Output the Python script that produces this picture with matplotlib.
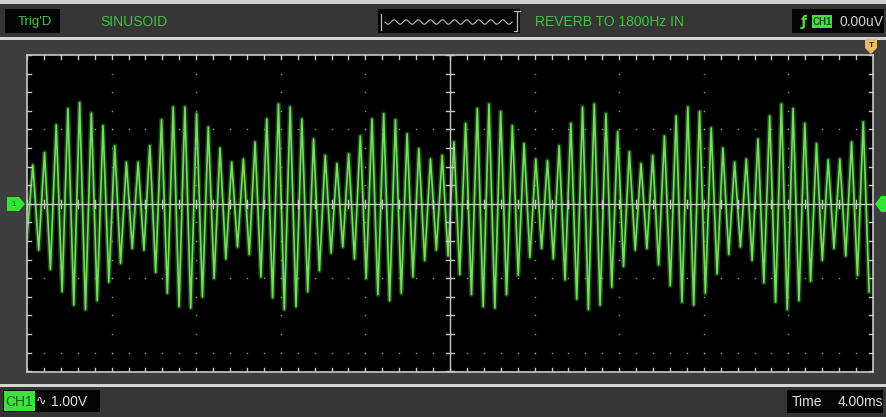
import matplotlib.pyplot as plt
import numpy as np
from matplotlib.patches import Rectangle, Polygon

W, H = 887, 417

# scope readouts
TRIG_STATE = "Trig'D"
SIGNAL_NAME = 'SINUSOID'
STATUS_TEXT = 'REVERB TO 1800Hz IN'
TRIG_LEVEL = '0.00uV'
VOLT_DIV = '1.00V'
TIME_DIV = '4.00ms'

MS_PER_DIV = 4.0
N_HDIV = 10
Y_TOP_V = 2.0      # screen top above ground marker (V)
Y_BOT_V = -2.26    # screen bottom below ground marker (V)

# carrier cycles: first trough time and period (ms)
T_FIRST = 0.0
PERIOD_MS = 0.553

# per-cycle peak levels (V)
PEAKS_POS = [0.52, 0.69, 1.06, 1.28, 1.36, 1.22, 1.05, 0.78, 0.56, 0.56,
             0.78, 1.13, 1.30, 1.30, 1.21, 1.03, 0.75, 0.56, 0.60, 0.83,
             1.14, 1.34, 1.30, 1.14, 0.87, 0.65, 0.54, 0.67, 0.91, 1.14,
             1.21, 1.13, 0.94, 0.74, 0.60, 0.65, 0.83, 1.08, 1.28, 1.34,
             1.24, 1.05, 0.81, 0.60, 0.58, 0.78, 1.08, 1.30, 1.34, 1.21,
             0.97, 0.70, 0.54, 0.65, 0.91, 1.18, 1.30, 1.24, 1.02, 0.75,
             0.56, 0.60, 0.87, 1.18, 1.34, 1.28, 1.08, 0.81, 0.59, 0.60,
             0.83, 1.10]
# per-cycle trough levels (V), one before each peak plus the last one
PEAKS_NEG = [-0.45, -0.62, -0.88, -1.18, -1.36, -1.42, -1.30, -1.05, -0.80, -0.60,
             -0.62, -0.92, -1.20, -1.38, -1.40, -1.25, -1.00, -0.74, -0.58, -0.68,
             -0.98, -1.26, -1.42, -1.38, -1.18, -0.90, -0.66, -0.58, -0.74, -1.00,
             -1.22, -1.30, -1.20, -0.98, -0.76, -0.62, -0.70, -0.95, -1.22, -1.38,
             -1.40, -1.22, -0.96, -0.72, -0.60, -0.74, -1.02, -1.28, -1.42, -1.36,
             -1.12, -0.84, -0.62, -0.60, -0.82, -1.10, -1.32, -1.36, -1.20, -0.94,
             -0.68, -0.58, -0.76, -1.06, -1.32, -1.42, -1.30, -1.04, -0.76, -0.60,
             -0.70, -0.96, -1.18]

BG = '#3e3e3e'
BAR = '#353535'
SEP = '#d4d4d4'
GREEN_TXT = '#3fc43f'
TRACE = '#7ada62'
GRID = '#c9c9c9'

fig = plt.figure(figsize=(W / 100, H / 100), dpi=100)
fig.patch.set_facecolor(BG)

# frame axes in pixel coordinates
frame = fig.add_axes([0, 0, 1, 1])
frame.set_xlim(0, W)
frame.set_ylim(H, 0)
frame.axis('off')


def box(x, y, w, h, color, z=1):
    frame.add_patch(Rectangle((x, y), w, h, facecolor=color, edgecolor='none', zorder=z))


# top and bottom status bars
box(0, 0, W, 4, '#cfcfcf')
box(0, 4, W, 33, BAR)
box(0, 37, W, 3, SEP)
box(0, 384, W, 3, SEP)
box(0, 387, W, 30, BAR)

font = dict(family='Liberation Sans', fontsize=10)

box(5, 9, 55, 24, '#050505', 2)
frame.text(18, 21.5, TRIG_STATE, color=GREEN_TXT, va='center', zorder=3,
           family='Liberation Sans', fontsize=9.5)
frame.text(100, 21.5, SIGNAL_NAME, color=GREEN_TXT, va='center', zorder=3, **font)

# mini waveform overview box
box(378, 9, 142, 24, '#050505', 2)
xs = np.linspace(385, 512, 200)
frame.plot(xs, 22 + 2.2 * np.sin((xs - 385) / 127 * 2 * np.pi * 10.5), color='#bcbcbc', lw=0.8, zorder=3)
frame.plot([381, 381, 381], [14, 22, 30], color='#bcbcbc', lw=0.9, zorder=3)
frame.plot([517, 517], [12, 31], color='#bcbcbc', lw=0.9, zorder=3)
frame.plot([514, 520], [11, 11], color='#bcbcbc', lw=0.9, zorder=3)
frame.plot([514, 517], [31, 31], color='#bcbcbc', lw=0.9, zorder=3)
frame.text(535, 21.5, STATUS_TEXT, color=GREEN_TXT, va='center', zorder=3, **font)

# trigger readout box
box(792, 9, 92, 24, '#050505', 2)
frame.text(804, 21.5, 'ƒ', color='#3fe03f', va='center', ha='center', zorder=3,
           family='DejaVu Sans', fontsize=10, fontweight='bold')
box(812, 15, 20, 13, '#3fe03f', 3)
frame.text(822, 21.8, 'CH1', color='#1a4a1a', va='center', ha='center', zorder=4,
           family='Liberation Sans', fontsize=7, fontweight='bold')
frame.text(840, 21.5, TRIG_LEVEL, color='#d0d0d0', va='center', zorder=3, **font)

# bottom readouts
box(3, 390, 97, 22, '#050505', 2)
box(4, 391, 31, 20, '#3fe03f', 3)
frame.text(19.5, 401.5, 'CH1', color='#1a5a1a', va='center', ha='center', zorder=4, **font)
frame.text(36, 401.5, '∿', color='#e0e0e0', va='center', zorder=3,
           family='DejaVu Sans', fontsize=9)
frame.text(51, 401.5, VOLT_DIV, color='#e0e0e0', va='center', zorder=3, **font)
box(787, 390, 96, 23, '#050505', 2)
frame.text(792, 401.5, 'Time', color='#e0e0e0', va='center', zorder=3, **font)
frame.text(838, 401.5, TIME_DIV, color='#e0e0e0', va='center', zorder=3, **font)

# ground marker (left), level marker (right), trigger-position marker (top)
frame.add_patch(Polygon([[7, 197], [19, 197], [25, 204], [19, 211], [7, 211]],
                        closed=True, facecolor='#33e633', edgecolor='none', zorder=3))
frame.text(14, 204, '1', color='#136013', ha='center', va='center', zorder=4,
           family='Liberation Sans', fontsize=5.5)
frame.add_patch(Polygon([[887, 196], [881, 196], [875, 204], [881, 212], [887, 212]],
                        closed=True, facecolor='#33e633', edgecolor='none', zorder=3))
frame.add_patch(Polygon([[865, 39], [877, 39], [877, 48], [871, 54], [865, 48]],
                        closed=True, facecolor='#e9bb6a', edgecolor='none', zorder=3))
frame.text(871, 45, 'T', color='#3a2a10', ha='center', va='center', zorder=4,
           family='Liberation Sans', fontsize=6, fontweight='bold')

# scope screen
L, R, T, B = 27, 873, 55, 372
ax = fig.add_axes([L / W, 1 - B / H, (R - L) / W, (B - T) / H])
ax.set_facecolor('#000000')
xmax = MS_PER_DIV * N_HDIV
ax.set_xlim(0, xmax)
ax.set_ylim(Y_BOT_V, Y_TOP_V)
ax.set_xticks([])
ax.set_yticks([])
for s in ax.spines.values():
    s.set_color(GRID)
    s.set_linewidth(1.2)

# graticule: dots every 1/5 div along rows, every 1/4 div along columns
xdiv = np.arange(0, xmax + 1e-6, MS_PER_DIV)
ydiv = np.arange(np.ceil(Y_BOT_V), Y_TOP_V + 1e-6, 1.0)
xminor = np.arange(0, xmax + 1e-6, MS_PER_DIV / 5)
yminor = np.arange(np.ceil(Y_BOT_V / 0.25) * 0.25, Y_TOP_V + 1e-6, 0.25)
gx, gy = np.meshgrid(xminor, ydiv)
ax.scatter(gx.ravel(), gy.ravel(), s=1.2, color='#9a9a9a', lw=0, zorder=1)
gx, gy = np.meshgrid(xdiv, yminor)
ax.scatter(gx.ravel(), gy.ravel(), s=1.2, color='#9a9a9a', lw=0, zorder=1)

# center cross with ticks
xc = xmax / 2
ax.axhline(0, color=GRID, lw=1.0, zorder=4)
ax.axvline(xc, color=GRID, lw=1.0, zorder=4)
tx = 4 / 846 * xmax
ty = 4 / 317 * (Y_TOP_V - Y_BOT_V)
for xm in xminor:
    ax.plot([xm, xm], [-ty, ty], color=GRID, lw=1.0, zorder=4)
    ax.plot([xm, xm], [Y_TOP_V, Y_TOP_V - ty], color=GRID, lw=1.0, zorder=4)
    ax.plot([xm, xm], [Y_BOT_V, Y_BOT_V + ty], color=GRID, lw=1.0, zorder=4)
for ym in yminor:
    ax.plot([xc - tx, xc + tx], [ym, ym], color=GRID, lw=1.0, zorder=4)
    ax.plot([0, tx], [ym, ym], color=GRID, lw=1.0, zorder=4)
    ax.plot([xmax - tx, xmax], [ym, ym], color=GRID, lw=1.0, zorder=4)

# trace: alternate trough / peak each half cycle
n = len(PEAKS_POS)
t_neg = T_FIRST + PERIOD_MS * np.arange(n + 1)
t_pos = t_neg[:-1] + PERIOD_MS / 2
tt = np.empty(2 * n + 1)
vv = np.empty(2 * n + 1)
tt[0::2] = t_neg
tt[1::2] = t_pos
vv[0::2] = PEAKS_NEG
vv[1::2] = PEAKS_POS
ax.plot(tt, vv, color='#2f8f2a', lw=3.4, alpha=0.5, zorder=2)
ax.plot(tt, vv, color=TRACE, lw=1.2, zorder=3)

fig.savefig('out.png', dpi=100, facecolor=fig.get_facecolor())
